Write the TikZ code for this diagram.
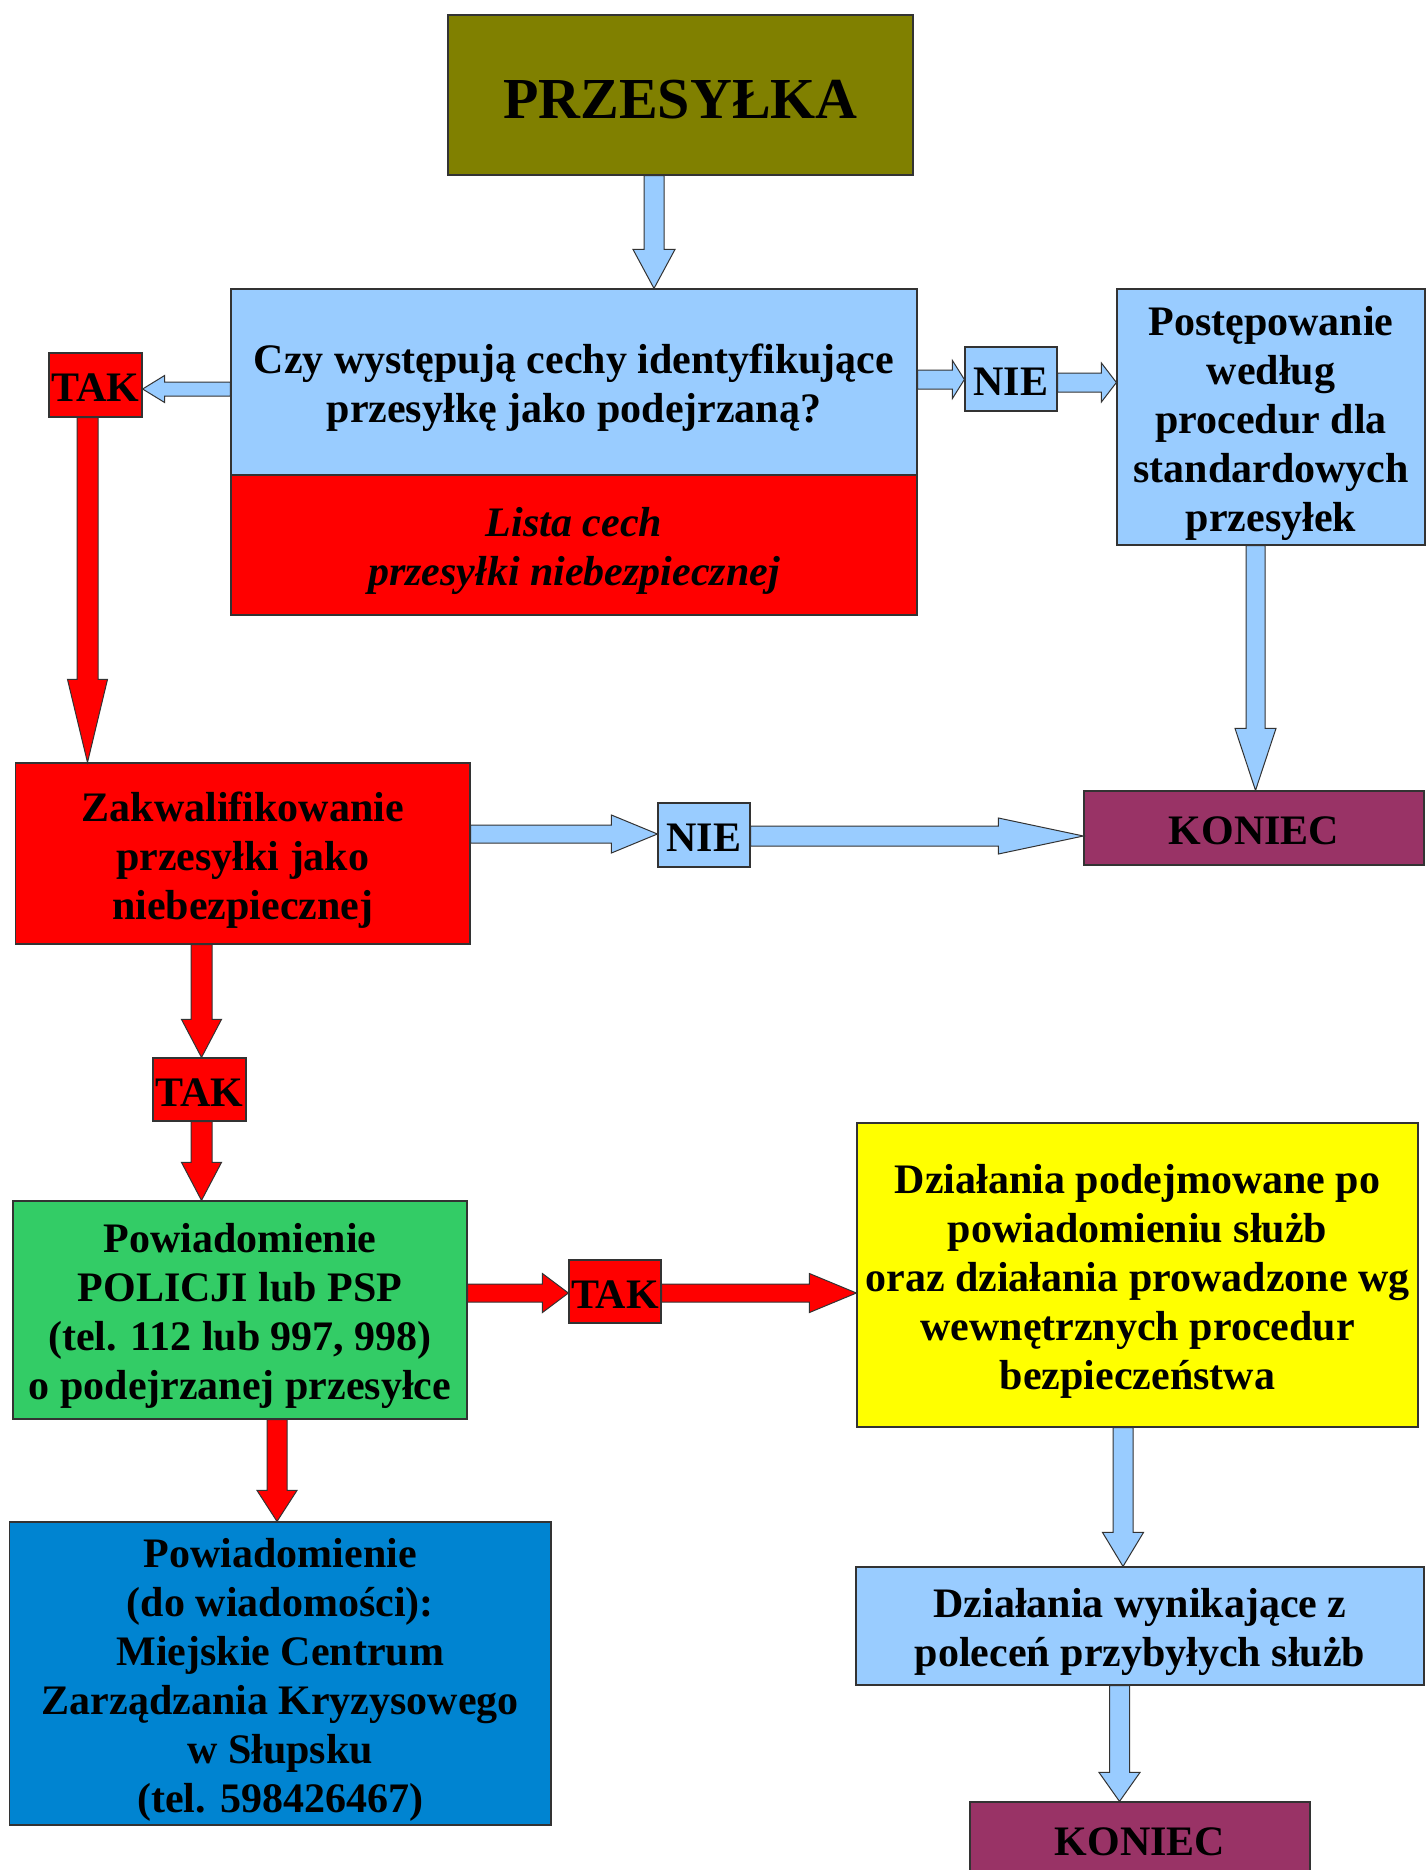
\documentclass[tikz,border=0pt]{standalone}
\usepackage{fontspec}
\setmainfont{Liberation Serif}
\usetikzlibrary{calc}
\definecolor{olivebox}{HTML}{808000}
\definecolor{lblue}{HTML}{99CCFF}
\definecolor{redbox}{HTML}{FF0000}
\definecolor{plum}{HTML}{993366}
\definecolor{greenbox}{HTML}{33CC66}
\definecolor{bluebox}{HTML}{0084D1}
\definecolor{yellowbox}{HTML}{FFFF00}
\definecolor{edge}{HTML}{333333}
\newcommand\fs{\rule{0pt}{1em}}
\newcommand\ls{\rule[-0.2em]{0pt}{0.2em}}
\tikzset{
  box/.style={draw=edge, line width=1.2pt, inner sep=0pt, align=center,
    font=\fontsize{42}{49}\selectfont\bfseries},
  bluearr/.style={draw=edge, line width=1pt, fill=lblue},
  redarr/.style={draw=edge, line width=1pt, fill=redbox},
}
\newcommand\varr[7]{%
  \draw[#1] let \p1=(#2), \p2=(#3), \p3=(#4,0) in
    ({\x3-#5pt},\y1) -- ({\x3-#5pt},{\y2+#7pt}) -- ({\x3-#6pt},{\y2+#7pt}) -- (\x3,\y2)
    -- ({\x3+#6pt},{\y2+#7pt}) -- ({\x3+#5pt},{\y2+#7pt}) -- ({\x3+#5pt},\y1) -- cycle;}
\newcommand\rarr[7]{%
  \draw[#1] let \p1=(#2), \p2=(#3), \p3=(0,#4) in
    (\x1,{\y3+#5pt}) -- ({\x2-#7pt},{\y3+#5pt}) -- ({\x2-#7pt},{\y3+#6pt}) -- (\x2,\y3)
    -- ({\x2-#7pt},{\y3-#6pt}) -- ({\x2-#7pt},{\y3-#5pt}) -- (\x1,{\y3-#5pt}) -- cycle;}
\newcommand\larr[7]{%
  \draw[#1] let \p1=(#2), \p2=(#3), \p3=(0,#4) in
    (\x1,{\y3+#5pt}) -- ({\x2+#7pt},{\y3+#5pt}) -- ({\x2+#7pt},{\y3+#6pt}) -- (\x2,\y3)
    -- ({\x2+#7pt},{\y3-#6pt}) -- ({\x2+#7pt},{\y3-#5pt}) -- (\x1,{\y3-#5pt}) -- cycle;}
\begin{document}
\begin{tikzpicture}[x=1pt,y=-1pt]
\useasboundingbox[fill=white] (0,0) rectangle (1425,1870);

\node[box, fill=olivebox, minimum width=465pt, minimum height=160pt,
  font=\fontsize{58}{66}\selectfont\bfseries] (przes) at (680.5,95) {\fs PRZESYŁKA\ls};
\node[box, fill=lblue, minimum width=686pt, minimum height=186pt] (question) at (574,382)
  {\fs Czy występują cechy identyfikujące\\przesyłkę jako podejrzaną?\ls};
\node[box, fill=redbox, minimum width=686pt, minimum height=140pt,
  font=\fontsize{42}{49}\selectfont\bfseries\itshape] (lista) at (574,545)
  {\fs Lista cech\\przesyłki niebezpiecznej\ls};
\node[box, fill=redbox, minimum width=93pt, minimum height=64pt] (tak1) at (95.5,385) {\fs TAK\ls};
\node[box, fill=lblue, minimum width=92pt, minimum height=64pt] (nie1) at (1011,379) {\fs NIE\ls};
\node[box, fill=lblue, minimum width=308pt, minimum height=256pt] (post) at (1271,417)
  {\fs Postępowanie\\według\\procedur dla\\standardowych\\przesyłek\ls};
\node[box, fill=plum, minimum width=340pt, minimum height=74pt] (koniec1) at (1254,828) {\fs KONIEC\ls};
\node[box, fill=redbox, minimum width=454.5pt, minimum height=181pt] (zakw) at (242.75,853.5)
  {\fs Zakwalifikowanie\\przesyłki jako\\niebezpiecznej\ls};
\node[box, fill=lblue, minimum width=92pt, minimum height=64pt] (nie2) at (704,835) {\fs NIE\ls};
\node[box, fill=redbox, minimum width=93pt, minimum height=63pt] (tak2) at (199.5,1089.5) {\fs TAK\ls};
\node[box, fill=greenbox, minimum width=454pt, minimum height=218pt] (powiad) at (240,1310)
  {\fs Powiadomienie\\POLICJI lub PSP\\(tel. 112 lub 997, 998)\\o podejrzanej przesyłce\ls};
\node[box, fill=redbox, minimum width=92pt, minimum height=63pt] (tak3) at (615,1291.5) {\fs TAK\ls};
\node[box, fill=yellowbox, minimum width=561pt, minimum height=304pt] (yellow) at (1137.5,1275)
  {\fs Działania podejmowane po\\powiadomieniu służb\\oraz działania prowadzone wg\\wewnętrznych procedur\\bezpieczeństwa\ls};
\node[box, fill=lblue, minimum width=568pt, minimum height=118pt] (wynik) at (1140,1626)
  {\fs Działania wynikające z\\poleceń przybyłych służb\ls};
\node[box, fill=plum, minimum width=340pt, minimum height=74pt] (koniec2) at (1140,1839) {\fs KONIEC\ls};
\node[box, fill=bluebox, minimum width=541.5pt, minimum height=303pt] (blue) at (280.25,1673.5)
  {\fs Powiadomienie\\(do wiadomości):\\Miejskie Centrum\\Zarządzania Kryzysowego\\w Słupsku\\(tel. 598426467)\ls};

\varr{bluearr}{przes.south}{question.north}{654}{10}{21}{39}
\larr{bluearr}{question.west}{tak1.east}{389}{7}{13.5}{22}
\varr{redarr}{tak1.south}{zakw.north}{87.5}{10.5}{20}{83}
\rarr{bluearr}{question.east}{nie1.west}{379.5}{9.5}{19}{12}
\rarr{bluearr}{nie1.east}{post.west}{382.5}{9.5}{19.5}{15}
\varr{bluearr}{post.south}{koniec1.north}{1255.5}{9.5}{20.5}{62}
\rarr{bluearr}{zakw.east}{nie2.west}{834}{9}{19}{46}
\rarr{bluearr}{nie2.east}{koniec1.west}{836}{10}{18}{85}
\varr{redarr}{zakw.south}{tak2.north}{201.5}{10.5}{20}{38}
\varr{redarr}{tak2.south}{powiad.north}{201.5}{10.5}{20}{38}
\rarr{redarr}{powiad.east}{tak3.west}{1293}{9}{19.5}{26}
\rarr{redarr}{tak3.east}{yellow.west}{1293}{9}{19.5}{47}
\varr{bluearr}{yellow.south}{wynik.north}{1123}{10}{20.5}{34}
\varr{bluearr}{wynik.south}{koniec2.north}{1119.5}{10}{20.5}{29}
\varr{redarr}{powiad.south}{blue.north}{277}{10}{20}{31}
\end{tikzpicture}
\end{document}
